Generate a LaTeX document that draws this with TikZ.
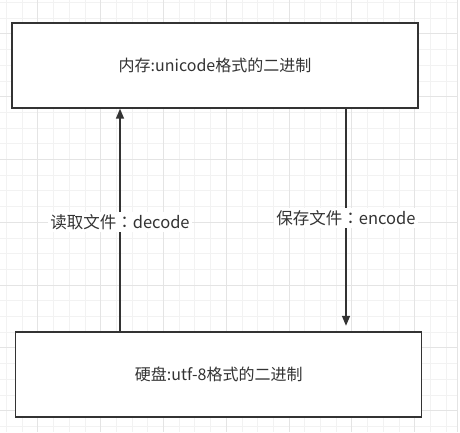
\documentclass[tikz,border=0pt]{standalone}
\usepackage{fontspec}
\setmainfont{Noto Sans CJK SC}
\newfontfamily\tcfont{Noto Sans CJK TC}
\usetikzlibrary{arrows.meta}
\definecolor{inkgray}{RGB}{51,51,51}
\definecolor{minorline}{RGB}{242,242,242}
\definecolor{majorline}{RGB}{228,228,228}
\newcommand{\fwcolon}{{\tcfont ：}}
\tikzset{
  membox/.style={draw=inkgray, line width=1.4pt, fill=white, text=inkgray,
    minimum width=406pt, minimum height=85pt, font=\fontsize{16}{18}\selectfont},
  flowarrow/.style={draw=inkgray, line width=1.5pt, -{Triangle[length=10pt,width=8pt]}},
  flowlabel/.style={fill=white, text=inkgray, inner sep=2pt, font=\fontsize{16.5}{18}\selectfont}
}
\begin{document}
\begin{tikzpicture}[x=1pt, y=-1pt]
  \useasboundingbox (0,0) rectangle (460,432);
  \fill[white] (0,0) rectangle (460,432);
  % grid
  \foreach \gx in {0,...,29} {
    \draw[minorline, line width=0.6pt] (6.3+15.7*\gx,0) -- (6.3+15.7*\gx,432);
  }
  \foreach \gy in {0,...,27} {
    \draw[minorline, line width=0.6pt] (0,2.3+15.7*\gy) -- (457,2.3+15.7*\gy);
  }
  \foreach \gx in {0,...,6} {
    \draw[majorline, line width=0.8pt] (37.7+62.8*\gx,0) -- (37.7+62.8*\gx,432);
  }
  \foreach \gy in {0,...,6} {
    \draw[majorline, line width=0.8pt] (0,33.7+62.8*\gy) -- (457,33.7+62.8*\gy);
  }
  \draw[majorline, line width=0.8pt] (457,0) -- (457,432);
  % boxes
  \node[membox] (memory) at (215,65.5) {内存:unicode格式的二进制};
  \node[membox] (disk) at (218.7,374.5) {硬盘:utf-8格式的二进制};
  % arrows
  \coordinate (readx) at (120,0);
  \coordinate (savex) at (346,0);
  \draw[flowarrow] (disk.north -| readx) -- (memory.south -| readx);
  \draw[flowarrow, shorten >=5.5pt] (memory.south -| savex) -- (disk.north -| savex);
  % labels
  \node[flowlabel] (readlabel) at (120,222) {读取文件\fwcolon decode};
  \node[flowlabel] (savelabel) at (346,218) {保存文件\fwcolon encode};
\end{tikzpicture}
\end{document}
